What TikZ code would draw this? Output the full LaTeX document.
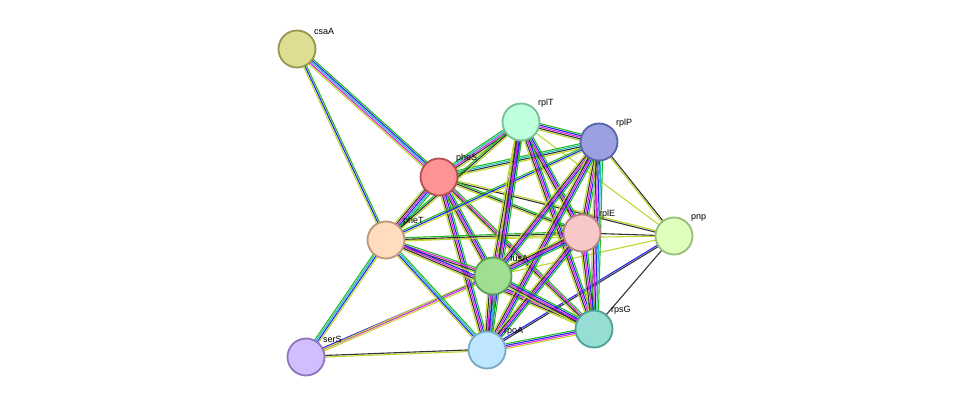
\documentclass[tikz,border=0pt]{standalone}
\usepackage{fontspec}
\setmainfont{Liberation Sans}
\usetikzlibrary{calc}
\pgfdeclarelayer{bg}
\pgfsetlayers{bg,main}
\definecolor{eg}{HTML}{22BB22}
\definecolor{eb}{HTML}{2222EE}
\definecolor{em}{HTML}{DD22DD}
\definecolor{ek}{HTML}{333333}
\definecolor{ey}{HTML}{BED62E}
\definecolor{ec}{HTML}{22BBCC}
\newcommand\bnd[4]{%
  \foreach \cc [count=\ii] in {#4}{%
    \pgfmathsetlengthmacro\bndoff{(\ii-(#1+1)/2)*1.6pt}%
    \draw[\cc,line width=1.1pt] ($(#2.center)!\bndoff!90:(#3.center)$) -- ($(#3.center)!\bndoff!-90:(#2.center)$);}}
\tikzset{prot/.style={circle,minimum size=37pt,line width=1.8pt,inner sep=0pt},
 lab/.style={font=\fontsize{9}{10}\selectfont,anchor=south west,inner sep=1pt}}
\begin{document}
\begin{tikzpicture}[x=1pt,y=-1pt]
\useasboundingbox (0,0) rectangle (975,403);
\node[prot,fill={rgb,255:red,222;green,222;blue,146},draw={rgb,255:red,150;green,150;blue,80}] (csaA) at (297,49) {};
\node[prot,fill={rgb,255:red,255;green,146;blue,146},draw={rgb,255:red,180;green,80;blue,80}] (pheS) at (439,177) {};
\node[prot,fill={rgb,255:red,190;green,255;blue,220},draw={rgb,255:red,120;green,190;blue,150}] (rplT) at (521,122) {};
\node[prot,fill={rgb,255:red,154;green,160;blue,224},draw={rgb,255:red,90;green,100;blue,170}] (rplP) at (599,142) {};
\node[prot,fill={rgb,255:red,255;green,220;blue,190},draw={rgb,255:red,190;green,150;blue,120}] (pheT) at (386,240) {};
\node[prot,fill={rgb,255:red,248;green,200;blue,200},draw={rgb,255:red,180;green,130;blue,130}] (rplE) at (582,233) {};
\node[prot,fill={rgb,255:red,222;green,255;blue,190},draw={rgb,255:red,150;green,190;blue,120}] (pnp) at (674,236) {};
\node[prot,fill={rgb,255:red,160;green,222;blue,146},draw={rgb,255:red,90;green,160;blue,90}] (fusA) at (493,276) {};
\node[prot,fill={rgb,255:red,210;green,190;blue,255},draw={rgb,255:red,140;green,120;blue,190}] (serS) at (306,357) {};
\node[prot,fill={rgb,255:red,190;green,230;blue,255},draw={rgb,255:red,120;green,170;blue,200}] (rpoA) at (487,350) {};
\node[prot,fill={rgb,255:red,150;green,222;blue,212},draw={rgb,255:red,80;green,160;blue,150}] (rpsG) at (594,329) {};
\foreach \n/\t in {csaA/csaA,pheS/pheS,rplT/rplT,rplP/rplP,pheT/pheT,rplE/rplE,pnp/pnp,fusA/fusA,serS/serS,rpoA/rpoA,rpsG/rpsG}
  \node[lab] (l\n) at ($(\n.center)+(16,-13)$) {\t};
\begin{pgfonlayer}{bg}
\bnd{5}{csaA}{pheS}{ey,em,ec,eb,eg}
\bnd{3}{csaA}{pheT}{ey,eb,eg}
\bnd{4}{serS}{pheT}{ey,eb,ec,eg}
\bnd{2}{serS}{rpoA}{ey,ek}
\bnd{3}{serS}{fusA}{ey,em,eb}
\bnd{1}{serS}{rplE}{ey}
\bnd{2}{pnp}{rplP}{ek,ey}
\bnd{1}{pnp}{rplT}{ey}
\bnd{1}{pnp}{rplE}{ek}
\bnd{2}{pnp}{pheS}{ey,ek}
\bnd{1}{pnp}{rpsG}{ek}
\bnd{2}{pnp}{rpoA}{eb,ek}
\bnd{1}{pnp}{fusA}{ey}
\bnd{1}{pnp}{pheT}{ey}
\bnd{6}{pheS}{pheT}{ey,ek,em,eb,ec,eg}
\bnd{5}{pheS}{rplT}{ey,ek,em,ec,eg}
\bnd{4}{pheS}{rplP}{ey,ek,ec,eg}
\bnd{3}{pheS}{rplE}{ey,ek,eg}
\bnd{5}{pheS}{fusA}{ey,ek,em,eb,eg}
\bnd{5}{pheS}{rpoA}{ey,ek,em,eb,eg}
\bnd{4}{pheS}{rpsG}{ey,ek,em,eg}
\bnd{3}{pheT}{rplT}{ey,ek,eg}
\bnd{3}{pheT}{rplP}{ey,eb,eg}
\bnd{3}{pheT}{rplE}{ey,ek,eg}
\bnd{4}{pheT}{fusA}{ey,ek,em,eg}
\bnd{4}{pheT}{rpoA}{ey,eb,ec,eg}
\bnd{4}{pheT}{rpsG}{ey,ek,em,eb}
\bnd{5}{rplT}{rplP}{ey,ek,em,eb,eg}
\bnd{5}{rplT}{rplE}{ey,ek,em,eb,eg}
\bnd{5}{rplT}{fusA}{ey,ek,em,eb,eg}
\bnd{5}{rplT}{rpoA}{ey,ek,em,eb,eg}
\bnd{5}{rplT}{rpsG}{ey,ek,em,eb,eg}
\bnd{5}{rplP}{rplE}{ey,ek,em,eb,eg}
\bnd{5}{rplP}{fusA}{ey,ek,em,eb,eg}
\bnd{5}{rplP}{rpoA}{ey,ek,em,eb,eg}
\bnd{6}{rplP}{rpsG}{ey,ek,em,eb,ec,eg}
\bnd{5}{rplE}{fusA}{ey,ek,em,eb,eg}
\bnd{5}{rplE}{rpoA}{ey,ek,em,eb,eg}
\bnd{5}{rplE}{rpsG}{ey,ek,em,eb,eg}
\bnd{6}{fusA}{rpoA}{ey,ek,em,eb,ec,eg}
\bnd{5}{fusA}{rpsG}{ey,ek,em,eb,eg}
\bnd{4}{rpoA}{rpsG}{ey,em,eb,eg}
\end{pgfonlayer}
\end{tikzpicture}
\end{document}
